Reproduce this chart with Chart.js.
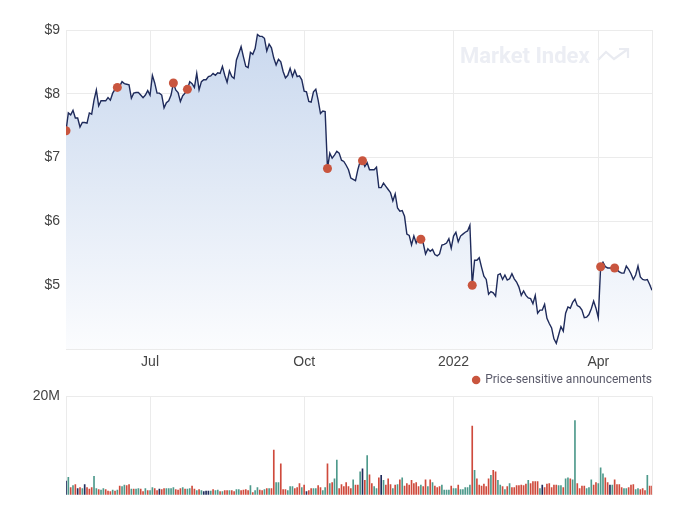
<!DOCTYPE html>
<html lang="en">

<head>
  <meta charset="UTF-8" />
  <title>Share price - 12 months</title>
  <script src="https://cdn.jsdelivr.net/npm/chart.js"></script>
  <style>
    body {
      margin: 0;
      background: #fff;
    }

    .wrap {
      position: relative;
      width: 693px;
      height: 511px;
      overflow: hidden;
    }

    #priceChart {
      position: absolute;
      left: 0;
      top: 0;
    }

    #volumeChart {
      position: absolute;
      left: 0;
      top: 382px;
    }

    /* faint brand mark in the top right corner */
    .watermark {
      position: absolute;
      left: 460px;
      top: 45px;
      font: bold 22px Roboto, sans-serif;
      line-height: 22px;
      color: #eceef4;
      white-space: nowrap;
    }

    .watermark svg {
      position: absolute;
      left: 137px;
      top: 2px;
    }
  </style>
</head>

<body>
  <div class="wrap">
    <canvas id="priceChart" width="693" height="396"></canvas>
    <canvas id="volumeChart" width="693" height="129"></canvas>
    <div class="watermark">Market Index
      <svg width="34" height="18" viewBox="0 0 34 18">
        <polyline points="1,13 9,5 17,12 31,2" fill="none" stroke="#e9ebf1" stroke-width="2.2" />
        <polyline points="22,2 31,2 31,11" fill="none" stroke="#e9ebf1" stroke-width="2.2" />
      </svg>
    </div>
  </div>

  <script>
    // closing price per trading day (index 0 = first day shown)
    const prices = [
      7.42, 7.70, 7.67, 7.74, 7.62, 7.62, 7.48, 7.55, 7.55, 7.54,
      7.70, 7.68, 7.90, 8.06, 7.81, 7.89, 7.89, 7.89, 7.94, 7.90,
      8.01, 8.07, 8.10, 8.12, 8.19, 8.16, 8.15, 8.14, 7.93, 8.01,
      8.02, 8.02, 7.98, 7.94, 7.98, 8.05, 7.98, 8.29, 8.17, 8.01,
      8.01, 7.98, 7.78, 7.86, 7.89, 7.98, 8.17, 8.06, 8.02, 7.88,
      7.97, 8.01, 8.07, 8.19, 8.16, 8.10, 8.32, 8.06, 8.19, 8.22,
      8.22, 8.27, 8.28, 8.32, 8.29, 8.33, 8.32, 8.43, 8.29, 8.18,
      8.36, 8.27, 8.24, 8.53, 8.63, 8.74, 8.58, 8.43, 8.41, 8.65,
      8.62, 8.71, 8.93, 8.90, 8.90, 8.87, 8.67, 8.78, 8.72, 8.56,
      8.45, 8.54, 8.50, 8.35, 8.25, 8.29, 8.40, 8.27, 8.37, 8.27,
      8.28, 8.22, 8.04, 8.03, 7.88, 7.87, 8.03, 8.07, 7.90, 7.69,
      7.73, 7.72, 6.83, 7.07, 6.99, 7.04, 7.10, 7.07, 6.96, 6.94,
      6.88, 6.81, 6.68, 6.66, 6.64, 6.81, 6.94, 6.95, 6.86, 6.92,
      6.81, 6.81, 6.81, 6.85, 6.53, 6.53, 6.60, 6.55, 6.50, 6.45,
      6.32, 6.43, 6.21, 6.16, 6.17, 6.08, 5.80, 5.78, 5.63, 5.77,
      5.66, 5.74, 5.72, 5.66, 5.49, 5.57, 5.53, 5.56, 5.48, 5.46,
      5.49, 5.63, 5.64, 5.66, 5.73, 5.58, 5.77, 5.83, 5.68, 5.77,
      5.80, 5.83, 5.85, 5.94, 5.00, 5.39, 5.39, 5.43, 5.28, 5.14,
      5.09, 4.86, 4.90, 4.88, 4.83, 5.16, 5.18, 5.09, 5.16, 5.08,
      5.10, 5.18, 5.10, 5.05, 4.97, 4.84, 4.91, 4.84, 4.80, 4.79,
      4.71, 4.84, 4.56, 4.61, 4.61, 4.70, 4.48, 4.40, 4.33, 4.16,
      4.09, 4.22, 4.35, 4.28, 4.56, 4.66, 4.64, 4.73, 4.78, 4.68,
      4.66, 4.61, 4.49, 4.50, 4.54, 4.63, 4.75, 4.64, 4.49, 5.29,
      5.36, 5.29, 5.27, 5.27, 5.27, 5.27, 5.24, 5.21, 5.19, 5.19,
      5.30, 5.25, 5.18, 5.09, 5.16, 5.30, 5.13, 5.09, 5.08, 5.09,
      5.01, 4.92
    ];

    // traded volume per day, millions of shares
    const volumes = [
      2.8, 3.6, 1.5, 1.9, 2.1, 1.3, 1.5, 1.3, 2.1, 1.5,
      1.2, 1.5, 3.8, 1.3, 1.1, 1.0, 1.3, 1.1, 0.8, 0.7,
      1.0, 0.8, 1.0, 1.8, 1.7, 2.0, 1.9, 2.1, 1.2, 1.2,
      1.2, 1.3, 1.2, 0.7, 1.3, 0.9, 0.9, 1.5, 1.3, 0.9,
      1.2, 1.1, 1.3, 1.3, 1.3, 1.3, 1.5, 1.1, 1.0, 1.3,
      1.5, 1.2, 1.2, 1.3, 1.8, 1.2, 0.9, 1.1, 0.9, 0.7,
      0.8, 0.8, 0.8, 1.1, 0.9, 1.0, 0.7, 0.7, 0.9, 0.9,
      0.9, 0.9, 0.7, 1.1, 1.1, 0.9, 1.0, 1.1, 0.9, 1.9,
      0.5, 0.9, 1.5, 1.0, 0.9, 1.1, 1.3, 1.3, 1.3, 9.1,
      2.5, 2.5, 6.3, 1.1, 1.1, 0.9, 1.7, 1.7, 1.3, 1.5,
      2.3, 1.5, 2.0, 0.7, 0.9, 1.3, 1.3, 1.3, 1.9, 1.5,
      0.9, 1.5, 6.3, 2.3, 2.5, 3.3, 7.1, 1.3, 2.1, 1.7,
      2.5, 1.7, 1.3, 3.1, 2.0, 2.0, 4.7, 5.3, 3.0, 8.0,
      4.1, 2.3, 1.7, 1.3, 3.5, 4.0, 3.0, 2.0, 3.3, 2.1,
      1.3, 2.0, 2.1, 3.1, 3.5, 1.8, 2.3, 2.0, 3.0, 2.3,
      2.5, 1.7, 2.0, 1.7, 3.1, 1.7, 3.1, 2.5, 1.8, 1.5,
      1.7, 2.0, 1.0, 1.0, 1.0, 1.8, 1.3, 1.3, 2.0, 1.1,
      1.1, 1.5, 1.5, 2.0, 14.0, 5.0, 3.3, 2.0, 1.8, 2.2,
      1.7, 3.3, 4.0, 5.0, 4.7, 3.0, 2.0, 1.7, 1.1, 1.7,
      2.3, 1.5, 1.5, 1.9, 1.9, 2.0, 1.9, 2.2, 3.0, 2.3,
      2.7, 2.7, 2.7, 1.3, 2.0, 1.5, 2.2, 2.3, 1.5, 2.0,
      2.0, 1.9, 1.9, 1.5, 3.3, 3.5, 3.3, 3.1, 15.1, 2.3,
      1.3, 1.8, 1.8, 1.3, 1.5, 3.1, 2.0, 2.5, 2.3, 5.5,
      4.3, 3.5, 2.5, 2.0, 2.0, 3.1, 2.1, 2.1, 1.5, 1.3,
      1.3, 1.5, 2.0, 2.1, 1.1, 1.3, 1.1, 1.3, 0.9, 4.0,
      1.8, 1.8
    ];

    // day move behind each volume bar: u = up, d = down, f = flat
    const dayMoves = (
      "fududfdufd" + "dduuduuddd" + "ududuuddud" + "uudduduudd" + "fdduuuuddd" +
      "uduudduduf" + "ffuduududd" + "udduuddddu" + "duuddududd" + "uuddduuudd" +
      "dudfdduudd" + "uududuuddd" + "ddduddufdu" + "dduudfuddd" + "udududdddd" +
      "dduddududd" + "duuuuduudu" + "uuuududddd" + "ddudduudud" + "udddddddud" +
      "dddufddddd" + "duuduuduud" + "ddduuudduu" + "uddfuddddu" + "uddduudddu" + "dd"
    ).split("");

    // trading days with a price-sensitive announcement
    const announcementDays = [0, 22, 46, 52, 112, 127, 152, 174, 229, 235];

    // first trading day of the labelled months
    const monthStartDays = [36, 102, 166, 228];
    const monthLabels = ["Jul", "Oct", "2022", "Apr"];

    const lastDay = prices.length - 1;
    const gridColour = "#ebebeb";
    const tickFont = { family: '"Liberation Sans", Arial, sans-serif', size: 14 };
    const moveColours = { u: "#4e9a8c", d: "#cf4a3c", f: "#1f2b5b" };

    // x ticks at the chart edges plus each month start
    function monthTicks(scale) {
      scale.ticks = [0, ...monthStartDays, lastDay].map(v => ({ value: v }));
    }

    function monthLabel(value) {
      const i = monthStartDays.indexOf(value);
      return i >= 0 ? monthLabels[i] : "";
    }

    function priceFill(context) {
      const area = context.chart.chartArea;
      if (!area) return "rgba(201, 216, 238, 0.8)";
      const g = context.chart.ctx.createLinearGradient(0, area.top, 0, area.bottom);
      g.addColorStop(0, "#c9d8ee");
      g.addColorStop(1, "#fbfcfe");
      return g;
    }

    new Chart(document.getElementById("priceChart"), {
      type: "line",
      data: {
        datasets: [
          {
            label: "Price-sensitive announcements",
            type: "scatter",
            data: announcementDays.map(d => ({ x: d, y: prices[d] })),
            backgroundColor: "#c9553e",
            borderWidth: 0,
            pointRadius: 4.5,
            pointStyle: "circle",
            order: 0
          },
          {
            label: "Price",
            data: prices.map((p, i) => ({ x: i, y: p })),
            borderColor: "#1f2b5b",
            borderWidth: 1.4,
            pointRadius: 0,
            tension: 0,
            fill: "start",
            backgroundColor: priceFill,
            order: 1
          }
        ]
      },
      options: {
        responsive: false,
        animation: false,
        layout: { padding: { top: 30, right: 41, bottom: 0, left: 0 } },
        scales: {
          x: {
            type: "linear",
            min: 0,
            max: lastDay,
            afterBuildTicks: monthTicks,
            afterFit: s => { s.height = 25; },
            ticks: { callback: monthLabel, autoSkip: false, maxRotation: 0, color: "#444", font: tickFont, padding: 5 },
            grid: { color: gridColour, drawTicks: false },
            border: { display: false }
          },
          y: {
            min: 4,
            max: 9,
            afterFit: s => { s.width = 66; },
            ticks: {
              stepSize: 1,
              callback: v => (v === 4 ? "" : "$" + v),
              color: "#444",
              font: tickFont,
              padding: 6
            },
            grid: { color: gridColour, drawTicks: false },
            border: { display: false }
          }
        },
        plugins: {
          tooltip: { enabled: false },
          legend: {
            position: "bottom",
            align: "end",
            labels: {
              filter: item => item.text !== "Price",
              usePointStyle: true,
              boxWidth: 6,
              boxHeight: 6,
              padding: 0,
              color: "#5a5a6a",
              font: { family: "Roboto, sans-serif", size: 12 }
            }
          }
        }
      }
    });

    new Chart(document.getElementById("volumeChart"), {
      type: "bar",
      data: {
        datasets: [{
          label: "Volume",
          data: volumes.map((v, i) => ({ x: i, y: v })),
          backgroundColor: ctx => moveColours[dayMoves[ctx.dataIndex]],
          barThickness: 1
        }]
      },
      options: {
        responsive: false,
        animation: false,
        layout: { padding: { top: 10, right: 41, bottom: 16, left: 0 } },
        scales: {
          x: {
            type: "linear",
            min: 0,
            max: lastDay,
            offset: false,
            afterBuildTicks: monthTicks,
            afterFit: s => { s.height = 0; },
            ticks: { display: false },
            grid: { offset: false, color: gridColour, drawTicks: false },
            border: { display: false }
          },
          y: {
            min: 0,
            max: 20,
            afterBuildTicks: s => { s.ticks = [{ value: 0 }, { value: 20 }]; },
            afterFit: s => { s.width = 66; },
            ticks: { callback: v => (v === 20 ? "20M" : ""), color: "#444", font: tickFont, padding: 6 },
            grid: { color: c => (c.tick.value === 0 ? "rgba(0,0,0,0)" : gridColour), drawTicks: false },
            border: { display: false }
          }
        },
        plugins: {
          legend: { display: false },
          tooltip: { enabled: false }
        }
      }
    });
  </script>
</body>

</html>
